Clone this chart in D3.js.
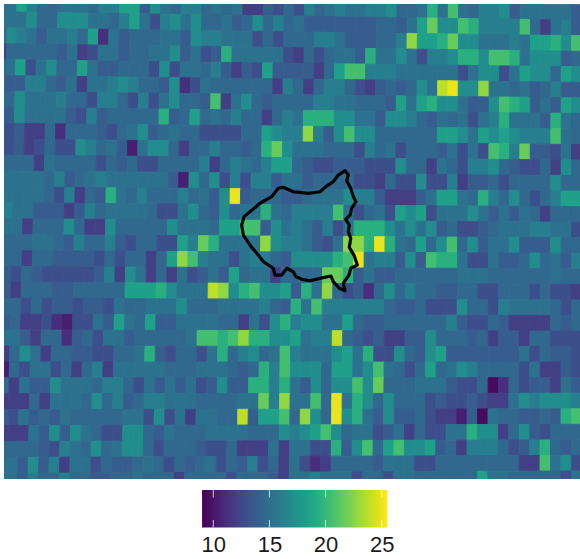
<!DOCTYPE html>
<html>
<head>
<meta charset="utf-8">
<script src="https://cdn.jsdelivr.net/npm/d3@7"></script>
<style>
html, body { margin: 0; padding: 0; background: #fff; }
svg { display: block; }
.legendAxis text { font-family: "Liberation Sans", Arial, sans-serif; font-size: 22px; fill: #1a1a1a; }
</style>
</head>
<body>
<script>
//raster values, one array per row, top to bottom
var cellRows = [
[16,19,17,15,15,16,16,16,15,17,17,19,19,14,18,16,15,17,17,15,16,15,16,12,12,14,13,15, 13,17,15,16,17,16,16,17,17,18,15,15,16,20,16,21,16,15,17,17,18,14,16,16,16,16,16,14],
[16,16,18,15,15,18,18,18,16,16,15,17,19,16,13,17,18,16,18,15,15,16,14,15,18,15,17,15, 16,14,14,14,14,14,14,14,15,15,14,16,19,22,18,18,21,20,17,17,17,17,21,15,12,16,17,14],
[18,17,16,14,16,16,17,15,19,11,16,14,15,15,15,16,16,14,18,17,17,16,16,16,13,15,13,15, 15,15,17,17,16,14,14,14,15,15,17,23,19,19,20,22,18,18,16,16,16,17,16,19,19,20,18,21],
[15,15,15,15,15,14,16,12,13,16,16,14,15,15,16,16,18,14,16,13,14,20,16,16,16,16,16,13, 12,15,13,15,16,16,14,20,16,16,18,16,13,17,17,18,20,20,18,21,21,20,16,18,18,18,14,15],
[16,19,13,16,18,15,15,19,16,14,14,15,15,15,13,18,13,16,16,15,17,14,12,14,13,19,14,14, 14,14,12,15,19,21,21,17,17,17,16,16,16,16,16,16,13,16,18,18,13,16,19,18,18,15,19,18],
[14,14,17,17,15,14,16,12,16,16,17,18,17,15,15,14,18,11,13,16,15,15,15,15,15,15,12,17, 15,12,15,17,17,15,13,12,14,15,14,15,18,16,24,25,18,18,23,16,16,15,16,14,15,17,14,14],
[15,18,16,16,16,17,15,15,13,17,17,15,13,17,13,16,18,15,15,14,21,12,16,18,15,14,15,15, 15,15,17,17,16,16,15,15,15,14,19,16,19,20,18,18,16,14,14,18,21,20,19,14,16,14,19,18],
[14,18,16,16,16,16,14,13,17,14,15,15,15,15,15,20,14,15,19,15,16,15,17,15,15,12,15,17, 16,20,20,20,18,18,16,16,14,18,18,17,15,14,16,15,16,13,16,17,20,16,16,16,14,20,16,15],
[13,14,12,12,15,11,15,15,15,14,13,15,16,18,14,15,16,15,15,13,13,13,13,15,15,19,18,17, 17,23,17,14,18,21,18,18,15,15,15,15,15,15,19,19,18,16,19,18,19,18,17,17,17,21,16,15],
[13,14,12,13,15,13,13,18,17,15,16,14,10,16,18,18,15,12,15,15,17,15,15,14,15,20,22,18, 16,16,16,15,15,15,13,17,15,16,13,15,15,15,14,16,13,16,13,21,20,17,22,14,14,13,16,12],
[15,15,15,12,16,15,15,15,15,13,15,14,15,13,13,15,15,15,15,17,12,15,17,16,15,17,19,19, 15,14,13,13,14,14,14,13,13,13,18,15,15,12,16,15,13,17,17,18,15,14,13,13,15,12,18,15],
[16,16,16,16,15,17,14,15,16,17,16,16,16,16,16,16,14,10,18,15,18,13,17,13,17,17,14,16, 16,14,15,15,15,15,13,13,12,15,13,13,18,13,13,17,12,14,14,15,13,15,15,15,15,18,15,15],
[16,16,16,16,15,13,17,12,15,14,20,16,15,17,15,15,15,17,15,16,14,18,25,14,15,15,15,14, 14,15,16,16,16,18,17,17,14,12,12,12,14,16,19,19,16,15,20,17,15,18,15,13,15,17,19,19],
[17,16,16,14,14,14,12,14,17,15,16,16,16,16,15,13,13,16,18,15,14,18,15,16,16,20,16,15, 17,17,17,17,21,16,13,15,16,13,19,18,19,13,16,16,16,18,16,14,16,14,16,15,12,15,15,15],
[16,16,12,15,15,15,18,15,12,12,18,15,15,15,15,15,18,16,16,16,15,19,19,21,21,14,18,16, 17,16,14,17,13,16,20,20,20,18,16,18,16,18,14,15,13,13,14,15,16,16,16,17,17,16,16,13],
[15,15,15,16,16,15,14,17,15,15,17,14,13,15,15,13,13,19,17,22,20,16,16,16,16,23,18,17, 17,16,14,13,16,23,23,20,25,20,16,15,19,15,18,21,15,18,14,16,16,18,14,14,14,18,15,15],
[15,15,12,15,15,14,14,14,14,13,15,13,15,15,12,15,19,23,21,17,16,16,13,16,17,17,15,14, 18,18,18,18,20,21,25,16,17,17,14,18,14,21,20,20,16,13,13,16,14,14,15,18,15,16,14,17],
[14,13,15,14,13,13,13,13,13,14,17,12,18,16,12,15,12,16,13,14,16,14,19,15,16,16,12,15, 15,15,15,22,22,20,14,16,14,14,15,15,15,15,15,15,16,16,16,15,15,15,15,15,15,16,15,15],
[14,12,15,15,15,14,14,15,15,15,15,15,19,19,19,20,18,16,16,16,24,23,18,20,21,18,18,19, 14,20,16,23,15,13,14,11,15,18,15,17,15,15,14,14,15,15,13,13,15,15,15,13,15,13,13,12],
[15,15,13,15,13,14,14,13,14,14,13,16,15,15,16,16,16,18,15,15,15,16,16,16,16,17,15,14, 20,16,21,17,17,17,17,17,17,15,14,14,15,13,13,13,18,15,15,13,17,16,16,16,16,15,13,15],
[14,15,12,12,13,11,10,13,13,16,14,19,16,15,19,14,14,16,16,16,16,15,15,12,16,13,18,20, 17,18,18,16,16,19,15,14,14,15,15,15,15,15,15,17,14,13,13,15,14,12,12,12,12,15,14,15],
[16,16,14,12,15,15,11,14,15,13,16,16,14,15,15,15,15,15,16,21,21,20,21,23,20,20,18,18, 19,16,17,17,24,15,14,13,14,12,12,14,14,18,15,15,15,14,15,12,14,14,12,15,15,13,13,13],
[12,15,18,16,12,15,15,14,14,13,13,15,15,16,20,14,13,15,15,13,16,20,15,17,18,15,16,21, 17,16,16,16,18,19,16,20,13,13,18,15,14,18,19,14,14,14,14,14,14,14,16,13,15,14,14,13],
[10,15,13,16,16,13,15,12,15,17,12,16,16,16,16,16,15,15,15,16,16,16,15,14,15,20,17,21, 18,18,18,15,19,19,16,18,21,16,15,13,15,19,15,16,18,17,15,15,15,15,13,16,12,12,14,13],
[15,12,16,14,14,18,16,16,16,15,17,17,15,13,16,14,16,14,16,13,14,18,14,14,20,20,17,20, 16,14,18,15,18,18,21,18,22,15,15,15,16,16,16,14,13,13,15,9,11,15,13,14,14,12,16,14],
[12,12,12,15,12,16,16,16,15,18,15,17,14,15,17,17,16,16,16,15,15,15,15,16,16,22,17,23, 16,16,21,15,25,16,20,18,15,18,15,15,15,13,14,13,13,14,13,12,12,16,18,17,18,18,18,17],
[14,13,16,14,15,14,16,15,15,15,15,15,16,16,13,18,13,16,12,16,16,15,15,24,14,19,19,21, 15,23,18,15,25,18,20,16,14,18,14,14,15,13,12,12,10,14,9,16,15,15,14,14,15,14,20,21],
[12,12,12,16,14,18,14,18,16,15,13,13,18,18,15,14,16,15,15,15,16,16,16,16,15,15,15,18, 17,18,19,21,18,15,16,16,13,14,16,12,15,13,13,16,16,20,18,18,12,15,18,14,13,15,15,15],
[15,15,15,15,14,13,17,16,15,18,15,16,18,18,15,13,15,15,15,14,13,13,15,12,12,12,16,12, 16,16,13,13,20,14,18,21,15,19,21,18,18,19,14,15,12,17,17,17,15,13,14,17,20,15,14,15],
[16,16,14,18,14,17,12,16,16,13,15,14,14,15,16,15,13,15,14,15,16,13,15,14,17,13,15,12, 16,13,11,12,15,15,15,15,14,16,16,16,13,13,15,15,15,15,15,15,15,15,12,12,21,16,18,13],
[16,16,14,17,15,15,17,15,15,14,14,15,15,16,15,15,15,12,15,15,15,15,13,15,15,15,14,12, 16,16,17,16,16,16,13,15,15,13,16,16,15,15,15,15,15,15,19,16,16,15,15,15,15,15,13,16]
];

//sliver of one more column that shows at the top left
var leftEdgeCells = [16,16,15,12,15,15,15,14];

//colour bar ticks and limits
var colorbarTicks = [10, 15, 20, 25];
var colorbarLimits = [9, 25.5];

//my reads ran high in the teal range, checked against the colour bar
var readValues = [9, 14, 15, 16, 17, 18, 19, 20, 25.5];
var barValues = [9.5, 13.8, 14.5, 15.2, 16, 17, 18.3, 19.5, 25.5];

//study area boundary in grid units (column, row)
var boundaryCol = [33.25,33.57,33.41,33.80,34.05,34.30,33.89,33.73,33.32,33.66,33.57,33.80,33.66,34.11,34.43,33.80,33.63,33.08,33.25,32.70,32.12,31.90,30.85,29.89,29.09,28.54,28.28,27.65,27.17,26.52,26.36,25.40,24.92,24.29,23.48,23.32,23.55,24.12,25.08,26.21,26.84,27.32,28.28,29.72,30.85,31.49,32.12,32.60];
var boundaryRow = [10.85,11.13,11.49,11.97,12.50,12.82,13.24,13.67,13.94,14.30,14.73,15.15,15.72,16.21,16.84,17.05,17.48,18.00,18.47,18.32,17.90,17.54,17.69,17.84,17.75,17.58,17.27,17.05,17.48,17.48,17.05,16.63,16.21,15.72,14.94,14.30,13.77,13.46,12.92,12.50,11.97,11.91,12.19,12.29,12.19,11.83,11.55,11.13];

//begin script when window loads
window.onload = drawMap();

function drawMap(){
	//frame dimensions
	var width = 580,
		height = 559;

	var svg = d3.select("body")
		.append("svg")
		.attr("width", width)
		.attr("height", height);

	//the panel crops the outer cells of the raster
	svg.append("clipPath")
		.attr("id", "panel")
		.append("rect")
		.attr("x", 4)
		.attr("y", 4)
		.attr("width", 576)
		.attr("height", 475);

	//grid units to pixels
	var nCols = cellRows[0].length,
		nRows = cellRows.length;

	var xGrid = d3.scaleLinear().domain([0, nCols]).range([-1.11, 581.85]);
	var yGrid = d3.scaleLinear().domain([0, nRows]).range([-0.25, 488]);

	var color = d3.scaleSequential(d3.interpolateViridis).domain(colorbarLimits);
	var calibrate = d3.scaleLinear().domain(readValues).range(barValues);

	setCells(svg, xGrid, yGrid, color, calibrate);
	setBoundary(svg, xGrid, yGrid);
	setColorbar(svg, color);
};

//the raster grid is not quite square to the map: it leans more towards the top left
function gridCorner(xGrid, yGrid, col, row){
	var x = xGrid(col),
		y = yGrid(row);
	return [
		x + 0.0214 * (370 - y) * (1 - x / 580),
		y + 0.00004 * (x - 250) * (370 - y)
	];
};

//raster cells
function setCells(svg, xGrid, yGrid, color, calibrate){
	var cellData = [];
	cellRows.forEach(function(values, row){
		values.forEach(function(value, col){
			cellData.push({col: col, row: row, value: value});
		});
	});
	leftEdgeCells.forEach(function(value, row){
		cellData.push({col: -1, row: row, value: value});
	});

	var panel = svg.append("g")
		.attr("clip-path", "url(#panel)");

	//source image is a little soft
	var cells = panel.append("g")
		.style("filter", "blur(0.7px)");

	cells.selectAll(".cell")
		.data(cellData)
		.enter()
		.append("path")
		.attr("class", "cell")
		.attr("d", function(d){
			return d3.line()([
				gridCorner(xGrid, yGrid, d.col, d.row),
				gridCorner(xGrid, yGrid, d.col + 1, d.row),
				gridCorner(xGrid, yGrid, d.col + 1, d.row + 1),
				gridCorner(xGrid, yGrid, d.col, d.row + 1)
			]) + "Z";
		})
		.style("fill", function(d){ return color(calibrate(d.value)); })
		.style("stroke", function(d){ return color(calibrate(d.value)); })
		.style("stroke-width", 0.9);
};

//study area outline
function setBoundary(svg, xGrid, yGrid){
	var line = d3.line()
		.x(function(d){ return xGrid(d[0]); })
		.y(function(d){ return yGrid(d[1]); })
		.curve(d3.curveLinearClosed);

	svg.append("path")
		.datum(d3.zip(boundaryCol, boundaryRow))
		.attr("d", line)
		.attr("fill", "none")
		.attr("stroke", "#050505")
		.attr("stroke-width", 3.2)
		.attr("stroke-linejoin", "round");
};

//colour bar with white ticks inside and labels below
function setColorbar(svg, color){
	var barTop = 490,
		barHeight = 37.5;

	var legendScale = d3.scaleLinear()
		.domain([10, 25])
		.range([213.3, 381.7]);

	var gradient = svg.append("defs")
		.append("linearGradient")
		.attr("id", "viridisBar");

	gradient.selectAll("stop")
		.data(d3.range(0, 1.001, 0.05))
		.enter()
		.append("stop")
		.attr("offset", function(d){ return d * 100 + "%"; })
		.attr("stop-color", function(d){
			return color(colorbarLimits[0] + d * (colorbarLimits[1] - colorbarLimits[0]));
		});

	svg.append("rect")
		.attr("x", legendScale(colorbarLimits[0]))
		.attr("y", barTop)
		.attr("width", legendScale(colorbarLimits[1]) - legendScale(colorbarLimits[0]))
		.attr("height", barHeight)
		.style("fill", "url(#viridisBar)");

	var marks = svg.selectAll(".barTick")
		.data(colorbarTicks)
		.enter()
		.append("g")
		.attr("class", "barTick");

	marks.append("line")
		.attr("x1", function(d){ return legendScale(d); })
		.attr("x2", function(d){ return legendScale(d); })
		.attr("y1", barTop)
		.attr("y2", barTop + 7.5);

	marks.append("line")
		.attr("x1", function(d){ return legendScale(d); })
		.attr("x2", function(d){ return legendScale(d); })
		.attr("y1", barTop + barHeight - 7.5)
		.attr("y2", barTop + barHeight);

	marks.selectAll("line")
		.attr("stroke", "#fff")
		.attr("stroke-opacity", 0.75)
		.attr("stroke-width", 1);

	var axis = d3.axisBottom(legendScale)
		.tickValues(colorbarTicks)
		.tickSize(0)
		.tickPadding(9);

	svg.append("g")
		.attr("class", "legendAxis")
		.attr("transform", "translate(0," + (barTop + barHeight) + ")")
		.call(axis)
		.call(function(g){ g.select(".domain").remove(); });
};
</script>
</body>
</html>
